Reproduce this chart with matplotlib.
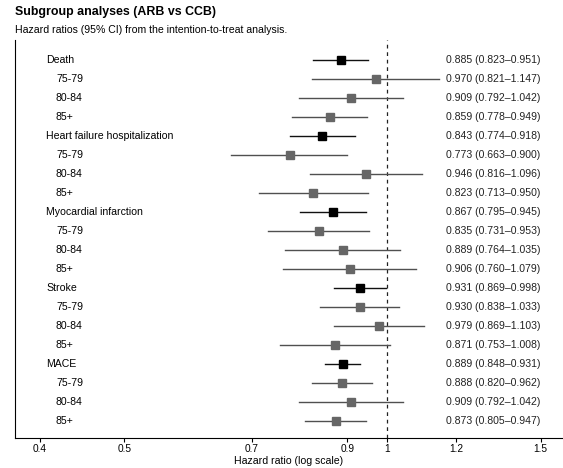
import numpy as np
from matplotlib import pyplot as plt

plt.rcParams['font.family'] = ['Liberation Sans', 'DejaVu Sans']

labels = ['Death', '75-79', '80-84', '85+',
          'Heart failure hospitalization', '75-79', '80-84', '85+',
          'Myocardial infarction', '75-79', '80-84', '85+',
          'Stroke', '75-79', '80-84', '85+',
          'MACE', '75-79', '80-84', '85+']
is_main = [True, False, False, False] * 5
hr = [0.885, 0.970, 0.909, 0.859,
      0.843, 0.773, 0.946, 0.823,
      0.867, 0.835, 0.889, 0.906,
      0.931, 0.930, 0.979, 0.871,
      0.889, 0.888, 0.909, 0.873]
lo = [0.823, 0.821, 0.792, 0.778,
      0.774, 0.663, 0.816, 0.713,
      0.795, 0.731, 0.764, 0.760,
      0.869, 0.838, 0.869, 0.753,
      0.848, 0.820, 0.792, 0.805]
hi = [0.951, 1.147, 1.042, 0.949,
      0.918, 0.900, 1.096, 0.950,
      0.945, 0.953, 1.035, 1.079,
      0.998, 1.033, 1.103, 1.008,
      0.931, 0.962, 1.042, 0.947]
ticks = [0.4, 0.5, 0.7, 0.9, 1, 1.2, 1.5]
tick_labels = ['0.4', '0.5', '0.7', '0.9', '1', '1.2', '1.5']

fig = plt.figure(figsize=(5.63, 4.68), dpi=100)
ax = fig.add_axes([15 / 563, 1 - 437.5 / 468, 1 - 15 / 563, (437.5 - 40) / 468])

ax.set_xscale('log')
ax.set_xlim(0.3745, 1.591)
ax.set_ylim(19.87, -1.05)

ax.axvline(1, color='#222222', ls=(0, (3, 3)), lw=0.9, zorder=1)

for i in range(len(hr)):
    if is_main[i]:
        lc, mc, ms = '#111111', 'black', 5.6
    else:
        lc, mc, ms = '#505050', '#666666', 5.2
    ax.plot([lo[i], hi[i]], [i, i], color=lc, lw=1.0, zorder=2)
    ax.plot(hr[i], i, marker='s', color=mc, ms=ms, ls='none', zorder=3)
    x0 = 46 if is_main[i] else 56
    ax.text((x0 - 15) / 548, i, labels[i], transform=ax.get_yaxis_transform(),
            ha='left', va='center', fontsize=7.6)
    ax.text((446 - 15) / 548, i, '%.3f (%.3f\u2013%.3f)' % (hr[i], lo[i], hi[i]),
            transform=ax.get_yaxis_transform(), ha='left', va='center',
            fontsize=7.6, color='#222222')

ax.set_xticks(ticks)
ax.set_xticklabels(tick_labels)
ax.xaxis.set_minor_locator(plt.NullLocator())
ax.tick_params(axis='x', labelsize=7.3, length=3, width=0.8, pad=2)
ax.set_yticks([])
ax.spines['top'].set_visible(False)
ax.spines['right'].set_visible(False)
ax.set_xlabel('Hazard ratio (log scale)', fontsize=7.6, labelpad=1)

fig.text(15 / 563, 1 - 12 / 468, 'Subgroup analyses (ARB vs CCB)', fontsize=8.9,
         fontweight='bold', ha='left', va='center')
fig.text(15 / 563, 1 - 30 / 468, 'Hazard ratios (95% CI) from the intention-to-treat analysis.',
         fontsize=7.6, ha='left', va='center')

fig.savefig('out.png', dpi=100)
